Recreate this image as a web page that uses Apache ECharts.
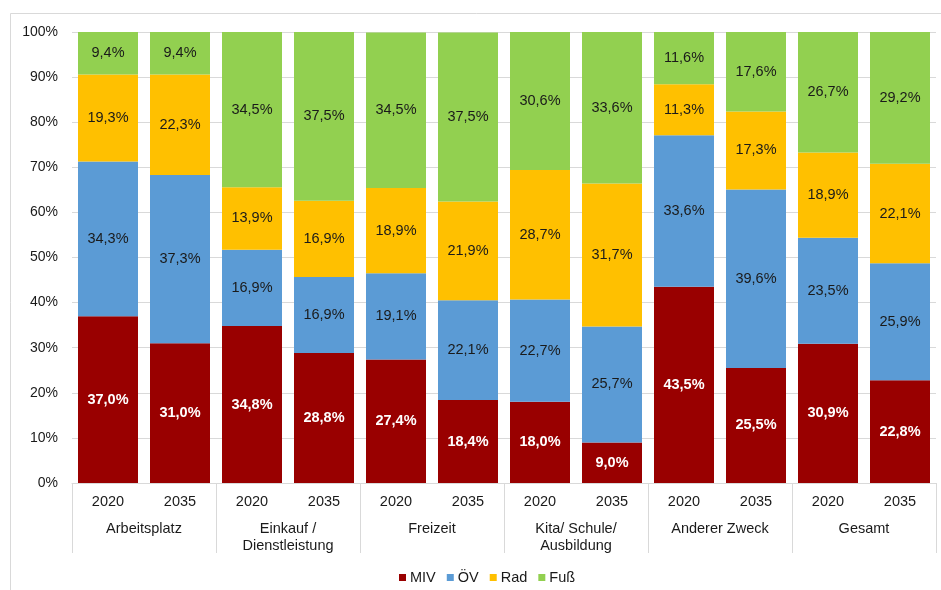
<!DOCTYPE html>
<html>
<head>
<meta charset="utf-8">
<script src="https://cdn.jsdelivr.net/npm/echarts@6/dist/echarts.min.js"></script>
<style>
  html, body { margin: 0; padding: 0; background: #fff; }
  #chart { width: 941px; height: 590px; }
</style>
</head>
<body>
<div id="chart"></div>
<script>
// Modal split by trip purpose, 2020 vs. 2035 (shares in %)
const years = ['2020', '2035', '2020', '2035', '2020', '2035', '2020', '2035', '2020', '2035', '2020', '2035'];
const purposes = ['Arbeitsplatz', 'Einkauf /\nDienstleistung', 'Freizeit', 'Kita/ Schule/\nAusbildung', 'Anderer Zweck', 'Gesamt'];
const miv = [37.0, 31.0, 34.8, 28.8, 27.4, 18.4, 18.0, 9.0, 43.5, 25.5, 30.9, 22.8];
const oev = [34.3, 37.3, 16.9, 16.9, 19.1, 22.1, 22.7, 25.7, 33.6, 39.6, 23.5, 25.9];
const rad = [19.3, 22.3, 13.9, 16.9, 18.9, 21.9, 28.7, 31.7, 11.3, 17.3, 18.9, 22.1];
const fuss = [9.4, 9.4, 34.5, 37.5, 34.5, 37.5, 30.6, 33.6, 11.6, 17.6, 26.7, 29.2];

const fontFamily = 'Liberation Sans, Arial, sans-serif';
const textColor = '#1a1a1a';
const fmt = p => p.value.toFixed(1).replace('.', ',') + '%';

function barSeries(name, data, color, labelColor, bold) {
  return {
    name: name,
    type: 'bar',
    stack: 'share',
    data: data,
    barWidth: 60,
    itemStyle: { color: color },
    label: {
      show: true,
      position: 'inside',
      formatter: fmt,
      color: labelColor,
      fontSize: 14.5,
      fontWeight: bold ? 'bold' : 'normal',
      fontFamily: fontFamily
    },
    emphasis: { disabled: true }
  };
}

const chart = echarts.init(document.getElementById('chart'), null, { renderer: 'canvas' });
chart.setOption({
  animation: false,
  backgroundColor: '#fff',
  textStyle: { fontFamily: fontFamily },
  graphic: [{
    type: 'rect',
    shape: { x: 10.5, y: 13.5, width: 940, height: 590 },
    style: { fill: 'none', stroke: '#d9d9d9', lineWidth: 1 },
    silent: true
  }],
  grid: { left: 72, right: 5, top: 32, bottom: 107 },
  legend: {
    top: 565,
    left: 394,
    itemWidth: 7,
    itemHeight: 7,
    itemGap: 11,
    icon: 'rect',
    textStyle: { fontSize: 14.5, color: textColor, fontFamily: fontFamily, padding: [0, 0, 0, -1] },
    data: ['MIV', 'ÖV', 'Rad', 'Fuß']
  },
  xAxis: [{
    type: 'category',
    data: years,
    position: 'bottom',
    axisLine: { show: true, lineStyle: { color: '#d9d9d9' } },
    axisTick: { show: false },
    axisLabel: { color: textColor, fontSize: 14.5, margin: 11, fontFamily: fontFamily, interval: 0 }
  }, {
    type: 'category',
    data: purposes,
    position: 'bottom',
    axisLine: { show: false },
    axisTick: { show: true, length: 70, interval: 0, lineStyle: { color: '#d9d9d9' } },
    axisLabel: { color: textColor, fontSize: 14.5, margin: 37, lineHeight: 17, fontFamily: fontFamily, interval: 0 },
    splitLine: { show: false }
  }],
  yAxis: {
    type: 'value',
    min: 0,
    max: 100,
    interval: 10,
    axisLine: { show: false },
    axisTick: { show: false },
    axisLabel: { formatter: '{value}%', color: textColor, fontSize: 14, margin: 14, fontFamily: fontFamily },
    splitLine: { lineStyle: { color: '#d9d9d9' } }
  },
  series: [
    barSeries('MIV', miv, '#990000', '#ffffff', true),
    barSeries('ÖV', oev, '#5b9bd5', textColor, false),
    barSeries('Rad', rad, '#ffc000', textColor, false),
    barSeries('Fuß', fuss, '#92d050', textColor, false)
  ]
});
</script>
</body>
</html>
